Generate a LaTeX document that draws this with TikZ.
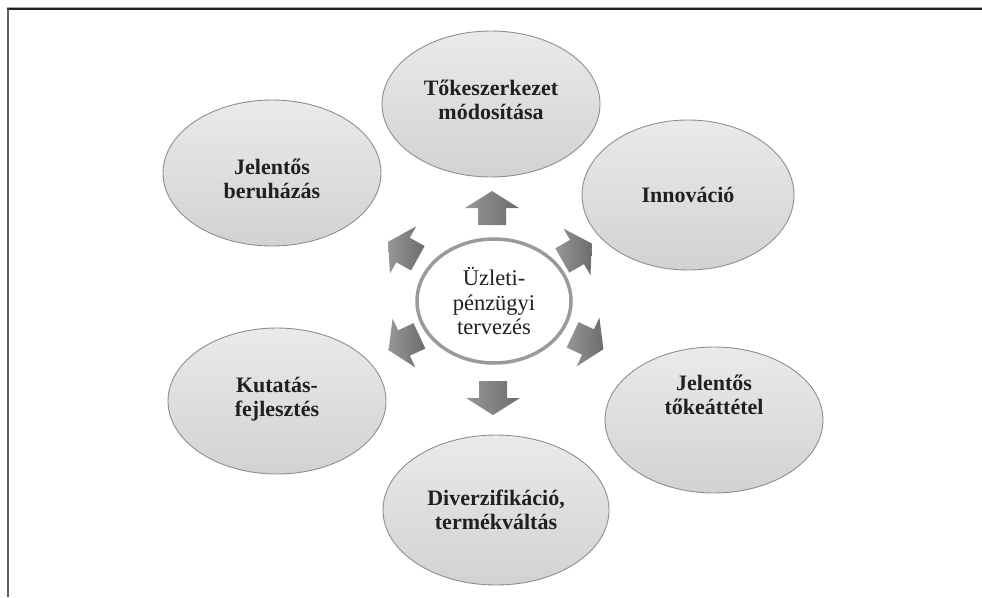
\documentclass[tikz,border=0pt]{standalone}
\usepackage{fontspec}
\setmainfont{Liberation Serif}
\usetikzlibrary{shapes.geometric}
\definecolor{ellTop}{HTML}{EAEAEB}
\definecolor{ellBot}{HTML}{D2D2D3}
\definecolor{bordergray}{HTML}{8E8E8E}
\definecolor{hubgray}{HTML}{9A9A9A}
\definecolor{txt}{HTML}{231F20}
\definecolor{arrA}{HTML}{6C6C6C}
\definecolor{arrB}{HTML}{979797}
\definecolor{frameTop}{HTML}{1E1E1E}
\definecolor{frameLeft}{HTML}{5E5E5E}
\begin{document}
\begin{tikzpicture}[x=1pt,y=-1pt,
  bubble/.style={ellipse, draw=bordergray, line width=0.9pt, top color=ellTop, bottom color=ellBot,
    minimum width=218pt, minimum height=146pt, inner sep=0pt},
  lbl/.style={align=center, font=\fontsize{22}{24}\selectfont\bfseries, text=txt, inner sep=0pt},
  hublbl/.style={align=center, font=\fontsize{22.5}{24.5}\selectfont, text=txt, inner sep=0pt},
  blockarrow/.style={left color=arrB, right color=arrA, draw=none},
]
\useasboundingbox (0,0) rectangle (982,597);
% frame
\draw[line width=1pt, gray!70] (7,7.6) -- (982,7.6);
\draw[line width=1.6pt, frameTop] (7,9) -- (982,9);
\draw[line width=2pt, frameLeft] (8,9) -- (8,597);

% outer ellipses
\node[bubble] (tok) at (491,104) {};
\node[lbl] (tokT) at (491,100) {Tőkeszerkezet\\módosítása};
\node[bubble] (ber) at (272,173) {};
\node[lbl] (berT) at (272,179) {Jelentős\\beruházás};
\node[bubble, minimum width=212pt, minimum height=150pt] (inn) at (688,195) {};
\node[lbl] (innT) at (688,195) {Innováció};
\node[bubble] (kut) at (277,401) {};
\node[lbl] (kutT) at (277,399) {Kutatás-\\fejlesztés};
\node[bubble] (tkt) at (714,420) {};
\node[lbl] (tktT) at (714,395) {Jelentős\\tőkeáttétel};
\node[bubble, minimum width=226pt, minimum height=150pt] (div) at (496,510) {};
\node[lbl] (divT) at (496,510) {Diverzifikáció,\\termékváltás};

% hub
\node[ellipse, draw=hubgray, line width=3.5pt, fill=white, minimum width=154pt, minimum height=124pt, inner sep=0pt] (hub) at (494,301) {};
\node[hublbl] (hubT) at (494,301) {Üzleti-\\pénzügyi\\tervezés};

% block arrows
\foreach \cx/\cy/\ang in {492/208/90, 493/398/-90, 403/250/151, 404/343/205, 577/252/30, 588/342/-25}{
  \begin{scope}[shift={(\cx,\cy)}, rotate=\ang]
    \path[blockarrow] (-17,-14) -- (0,-14) -- (0,-27) -- (17,0) -- (0,27) -- (0,14) -- (-17,14) -- cycle;
  \end{scope}
}
\end{tikzpicture}
\end{document}
